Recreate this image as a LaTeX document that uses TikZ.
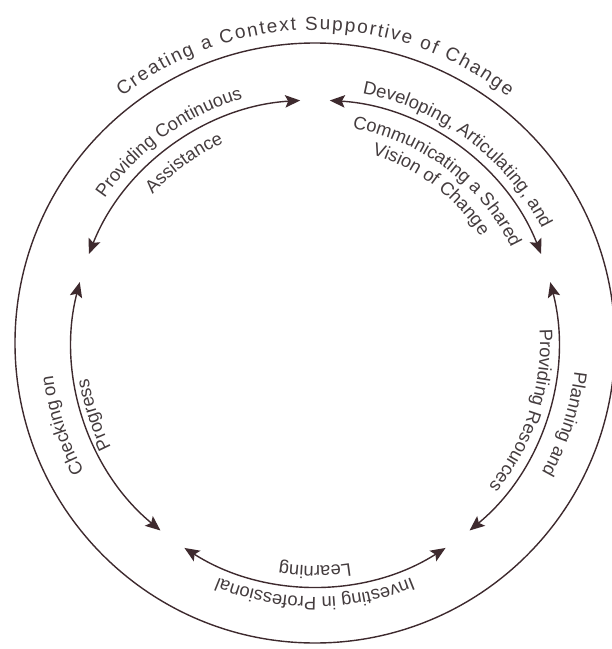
\documentclass[tikz,border=0pt]{standalone}
\usepackage{fontspec}
\setmainfont{Liberation Sans}
\usetikzlibrary{decorations.text,arrows.meta}
\definecolor{ink}{RGB}{62,42,46}
\definecolor{txt}{RGB}{68,60,62}
\begin{document}
\begin{tikzpicture}[x=1pt,y=1pt,
  ring/.style={draw=ink, line width=1.4pt},
  cyc/.style={draw=ink, line width=1.4pt,
    {Stealth[length=15pt,width=12.5pt,inset=3pt]}-{Stealth[length=15pt,width=12.5pt,inset=3pt]}},
  lbl/.style={decorate, decoration={text along path, text align=center,
    text color=txt, text={|\fontsize{18.3}{20}\selectfont|#1}}},
  title/.style={decorate, decoration={text along path, text align=fit to path,
    text color=txt, text={|\fontsize{19}{21}\selectfont|#1}}}
]
\useasboundingbox (-315,-306) rectangle (297,343);
\coordinate (O) at (0,0);

% outer ring and its title
\draw[ring] (O) circle[radius=300];
\path[title={Creating a Context Supportive of Change}]
  (128:313) arc[start angle=128, end angle=52, radius=313];

% five double-headed arcs of the cycle
\foreach \c in {126,54,-18,-90,-162}
  \draw[cyc] ({\c+32.5}:243) arc[start angle={\c+32.5}, end angle={\c-32.5}, radius=243];

% labels set along clockwise arcs centred on each segment
\newcommand\arclabel[3]{%
  \path[lbl={#3}] ({#1+45}:#2) arc[start angle={#1+45}, end angle={#1-45}, radius=#2];}

\arclabel{126}{255}{Providing Continuous}
\arclabel{126}{220}{Assistance}
\arclabel{53}{254}{Developing, Articulating, and}
\arclabel{53}{218}{Communicating a Shared}
\arclabel{53}{197}{Vision of Change}
\arclabel{-18}{261}{Planning and}
\arclabel{-18}{225}{Providing Resources}
\arclabel{-90}{223}{Learning}
\arclabel{-90}{254}{Investing in Professional}
\arclabel{198}{264}{Checking on}
\arclabel{198}{229}{Progress}
\end{tikzpicture}
\end{document}
